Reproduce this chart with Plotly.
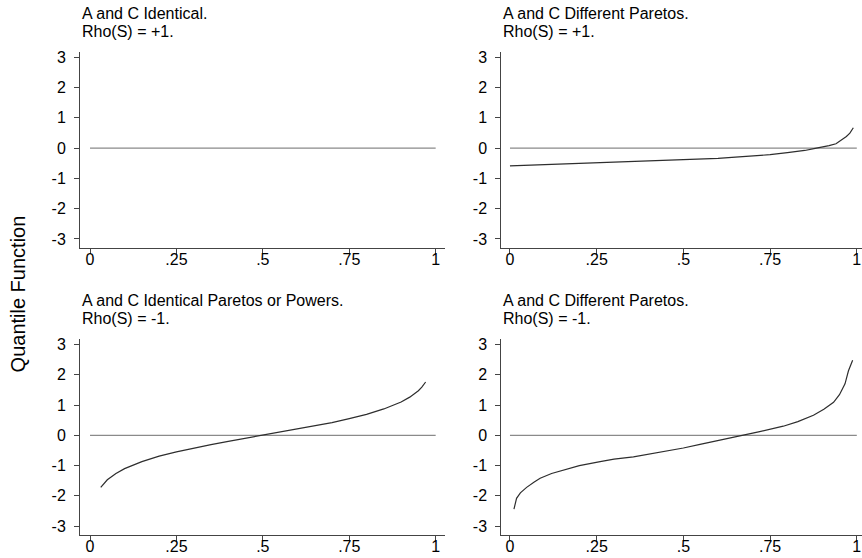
import plotly.graph_objects as go

# ---- data ----
p_zero = [0.0, 1.0]
y_zero = [0.0, 0.0]

# Panel 1: A and C identical, rho = +1 (curve coincides with zero)
p1 = [0.0, 1.0]
y1 = [0.0, 0.0]

# Panel 2: A and C different Paretos, rho = +1
p2 = [0.0, 0.05, 0.1, 0.15, 0.2, 0.25, 0.3, 0.35, 0.4, 0.45, 0.5, 0.55, 0.6,
      0.65, 0.7, 0.75, 0.8, 0.85, 0.88, 0.9, 0.92, 0.94, 0.96, 0.97, 0.98, 0.99]
y2 = [-0.59, -0.57, -0.55, -0.53, -0.51, -0.49, -0.47, -0.455, -0.44, -0.42,
      -0.40, -0.37, -0.34, -0.30, -0.26, -0.22, -0.15, -0.08, -0.01, 0.03,
      0.08, 0.14, 0.30, 0.38, 0.49, 0.67]

# Panel 3: A and C identical Paretos or powers, rho = -1
p3 = [0.031, 0.04, 0.05, 0.075, 0.1, 0.15, 0.2, 0.25, 0.3, 0.35, 0.4, 0.45,
      0.5, 0.55, 0.6, 0.65, 0.7, 0.75, 0.8, 0.85, 0.9, 0.925, 0.95, 0.96, 0.971]
y3 = [-1.72, -1.59, -1.47, -1.26, -1.10, -0.87, -0.69, -0.55, -0.42, -0.31,
      -0.20, -0.10, 0.0, 0.10, 0.20, 0.31, 0.42, 0.55, 0.69, 0.87, 1.10,
      1.26, 1.47, 1.59, 1.76]

# Panel 4: A and C different Paretos, rho = -1
p4 = [0.0115, 0.019, 0.03, 0.048, 0.07, 0.087, 0.12, 0.163, 0.2, 0.26, 0.3,
      0.356, 0.4, 0.452, 0.5, 0.548, 0.6, 0.673, 0.72, 0.788, 0.83, 0.875,
      0.905, 0.933, 0.95, 0.966, 0.976, 0.988]
y4 = [-2.44, -2.08, -1.90, -1.72, -1.54, -1.42, -1.26, -1.11, -1.00, -0.87,
      -0.79, -0.71, -0.62, -0.53, -0.42, -0.30, -0.18, 0.0, 0.12, 0.30, 0.45,
      0.66, 0.86, 1.09, 1.34, 1.70, 2.13, 2.48]

titles_line1 = ["A and C Identical.", "A and C Different Paretos.",
                "A and C Identical Paretos or Powers.", "A and C Different Paretos."]
titles_line2 = ["Rho(S) = +1.", "Rho(S) = +1.", "Rho(S) = -1.", "Rho(S) = -1."]

x_tickvals = [0, 0.25, 0.5, 0.75, 1]
x_ticktext = ["0", ".25", ".5", ".75", "1"]
y_tickvals = [-3, -2, -1, 0, 1, 2, 3]
y_ticktext = ["-3", "-2", "-1", "0", "1", "2", "3"]

ytitle = "Quantile Function"

# ---- layout geometry ----
W, H = 862, 558
FONT = "Liberation Sans, Arial, Helvetica, sans-serif"
AXCOL = "#444444"
CURVE = "#2e2e2e"
ZERO = "#8a8a8a"

def fx(px):
    return px / W

def fy(py):
    return 1 - py / H

col_dom = [[fx(80), fx(445)], [fx(501.3), 1.0]]
col_rng = [[-0.029, 1.027], [-0.025, 1.015]]
row_dom = [[fy(246), fy(49.3)], [fy(534.8), fy(338.1)]]
row_top = [49.3, 338.1]
yrng = [-3.29, 3.17]

data_p = [p1, p2, p3, p4]
data_y = [y1, y2, y3, y4]

fig = go.Figure()
annotations = []
layout = {}
for i in range(4):
    r, c = divmod(i, 2)
    sx = "" if i == 0 else str(i + 1)
    xa, ya = "x" + sx, "y" + sx
    # zero reference line
    fig.add_trace(go.Scatter(x=p_zero, y=y_zero, mode="lines", xaxis=xa, yaxis=ya,
                             line=dict(color=ZERO, width=1.2), showlegend=False,
                             hoverinfo="skip"))
    if i > 0:
        fig.add_trace(go.Scatter(x=data_p[i], y=data_y[i], mode="lines", xaxis=xa,
                                 yaxis=ya, line=dict(color=CURVE, width=1.2),
                                 showlegend=False))
    common = dict(showline=True, linecolor=AXCOL, linewidth=1, ticks="outside",
                  ticklen=5, tickcolor=AXCOL, tickwidth=1, showgrid=False,
                  zeroline=False, tickfont=dict(family=FONT, size=16, color="black"))
    layout["xaxis" + sx] = dict(domain=col_dom[c], range=col_rng[c], anchor=ya,
                                tickvals=x_tickvals, ticktext=x_ticktext,
                                ticklabelstandoff=-8, **common)
    layout["yaxis" + sx] = dict(domain=row_dom[r], range=yrng, anchor=xa,
                                tickvals=y_tickvals, ticktext=y_ticktext,
                                ticklabelstandoff=5, **common)
    x0 = col_dom[c][0]
    annotations.append(dict(x=x0, y=fy(row_top[r] - 38.5), xref="paper", yref="paper",
                            xanchor="left", yanchor="middle", showarrow=False,
                            text=titles_line1[i],
                            font=dict(family=FONT, size=16, color="black")))
    annotations.append(dict(x=x0, y=fy(row_top[r] - 20.8), xref="paper", yref="paper",
                            xanchor="left", yanchor="middle", showarrow=False,
                            text=titles_line2[i],
                            font=dict(family=FONT, size=16, color="black")))

annotations.append(dict(x=fx(18), y=fy(293), xref="paper", yref="paper",
                        xanchor="center", yanchor="middle", showarrow=False,
                        textangle=-90, text=ytitle,
                        font=dict(family=FONT, size=20, color="black")))

fig.update_layout(width=W, height=H, margin=dict(l=0, r=0, t=0, b=0),
                  paper_bgcolor="white", plot_bgcolor="white",
                  annotations=annotations, **layout)

fig.write_html("out.html", config={"displayModeBar": False},
               post_script="document.body.style.margin='0';document.body.style.overflow='hidden';")
